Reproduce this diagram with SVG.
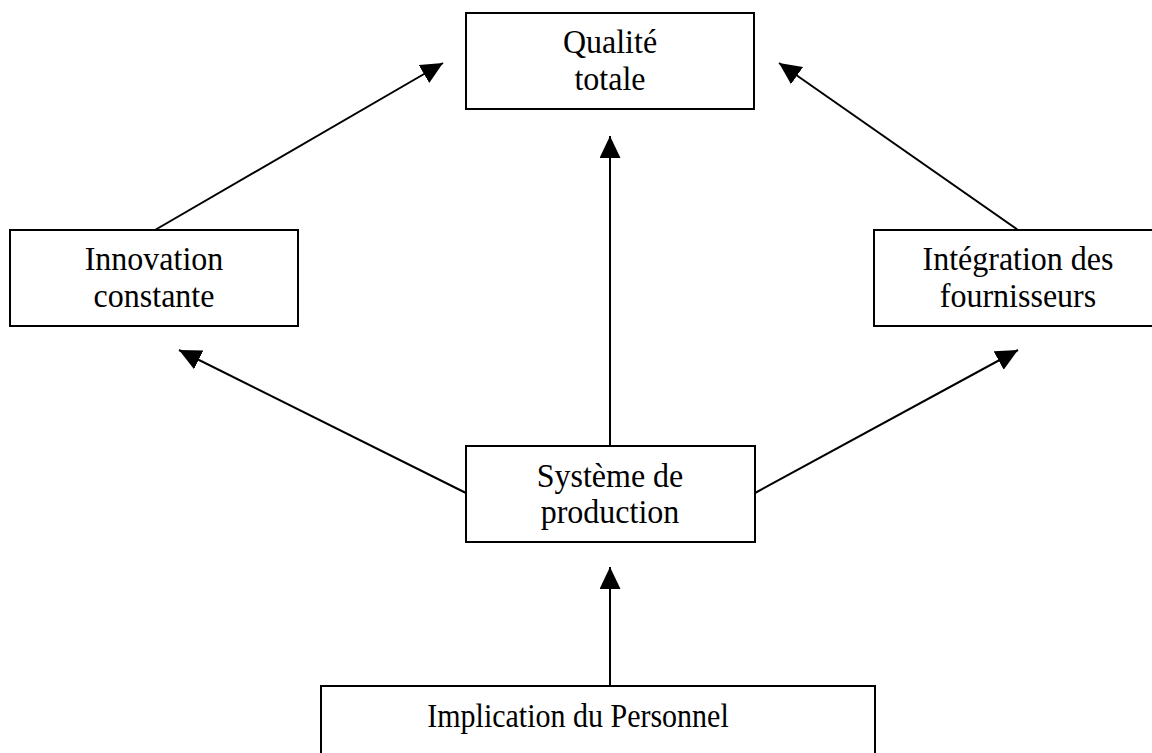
<svg xmlns="http://www.w3.org/2000/svg" width="1152" height="753" viewBox="0 0 1152 753">
  <style>
    .box { fill: #ffffff; stroke: #000000; stroke-width: 2; }
    .lbl { font-family: "Liberation Serif", "Times New Roman", serif; font-size: 32px; fill: #000000; text-anchor: middle; }
    .lbl2 { font-family: "Liberation Serif", "Times New Roman", serif; font-size: 30px; fill: #000000; text-anchor: middle; }
    .conn { stroke: #000000; stroke-width: 2; fill: none; marker-end: url(#arrow); }
  </style>
  <defs>
    <marker id="arrow" markerUnits="userSpaceOnUse" markerWidth="24" markerHeight="24" refX="22" refY="10.5" orient="auto">
      <path d="M0,0 L22,10.5 L0,21 Z" fill="#000000"/>
    </marker>
  </defs>
  <rect width="1152" height="753" fill="#ffffff"/>

  <g id="connectors">
    <line class="conn" x1="155" y1="230" x2="443" y2="63"/>
    <line class="conn" x1="1018" y1="230" x2="779" y2="63"/>
    <line class="conn" x1="610" y1="446" x2="610" y2="136"/>
    <line class="conn" x1="466" y1="493" x2="179" y2="350"/>
    <line class="conn" x1="755" y1="493" x2="1018" y2="350"/>
    <line class="conn" x1="610" y1="686" x2="610" y2="567"/>
  </g>

  <g id="qualite">
    <rect class="box" x="466" y="13" width="288" height="96"/>
    <text class="lbl" x="0" y="0" transform="translate(610,53) scale(1,1.05)">Qualité</text>
    <text class="lbl" x="0" y="0" transform="translate(610,90) scale(1,1.05)">totale</text>
  </g>

  <g id="innovation">
    <rect class="box" x="10" y="230" width="288" height="96"/>
    <text class="lbl" x="0" y="0" transform="translate(154,270) scale(1,1.05)">Innovation</text>
    <text class="lbl" x="0" y="0" transform="translate(154,307) scale(1,1.05)">constante</text>
  </g>

  <g id="integration">
    <rect class="box" x="874" y="230" width="290" height="96"/>
    <text class="lbl" x="0" y="0" transform="translate(1018,270) scale(1,1.05)">Intégration des</text>
    <text class="lbl" x="0" y="0" transform="translate(1018,307) scale(1,1.05)">fournisseurs</text>
  </g>

  <g id="systeme">
    <rect class="box" x="466" y="446" width="289" height="96"/>
    <text class="lbl" x="0" y="0" transform="translate(610,487) scale(1,1.05)">Système de</text>
    <text class="lbl" x="0" y="0" transform="translate(610,523) scale(1,1.05)">production</text>
  </g>

  <g id="implication">
    <rect class="box" x="321" y="686" width="554" height="90"/>
    <text class="lbl2" x="0" y="0" transform="translate(578,727) scale(1,1.1)">Implication du Personnel</text>
  </g>
</svg>
